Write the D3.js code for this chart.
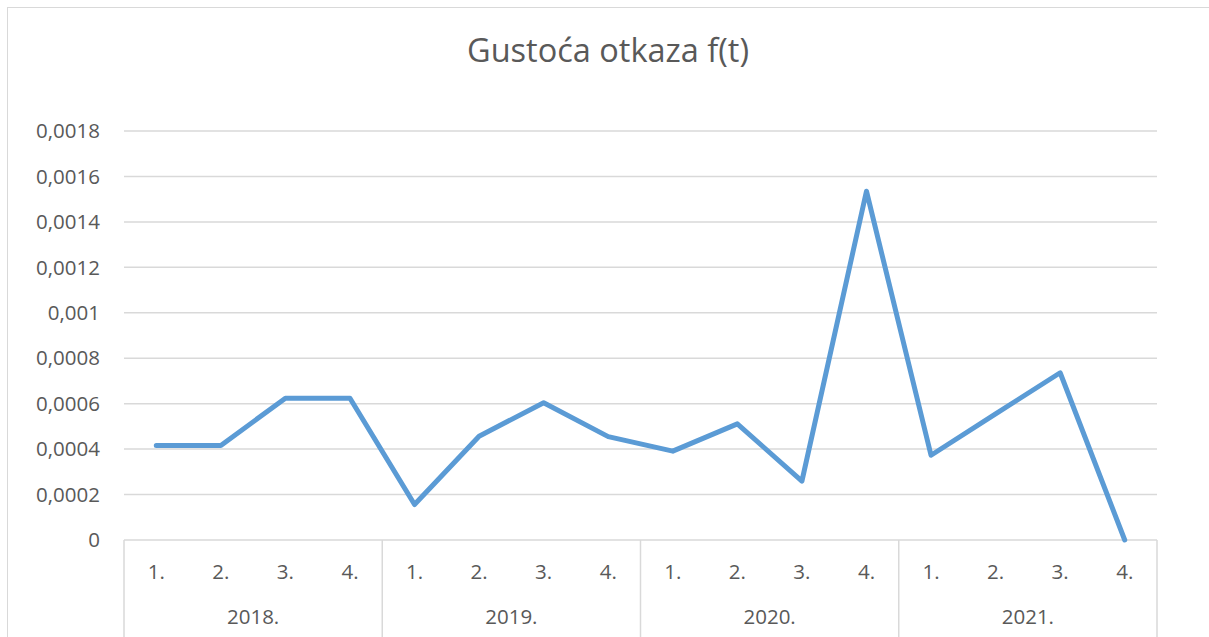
<!DOCTYPE html>
<html>
<head>
<meta charset="utf-8">
<script src="https://cdn.jsdelivr.net/npm/d3@7"></script>
<style>
  body { margin: 0; background: #fff; }
  text { font-family: "Open Sans", "Liberation Sans", sans-serif; fill: #595959; }
</style>
</head>
<body>
<div id="chart"></div>
<script>
const title = "Gustoća otkaza f(t)";
const years = ["2018.", "2019.", "2020.", "2021."];
const quarters = ["1.", "2.", "3.", "4."];
const values = [
  0.000416, 0.000416, 0.000624, 0.000624,
  0.000156, 0.000457, 0.000604, 0.000455,
  0.000391, 0.000511, 0.000259, 0.001535,
  0.000373, 0.000555, 0.000736, 0
];
const yTicks = [0, 0.0002, 0.0004, 0.0006, 0.0008, 0.001, 0.0012, 0.0014, 0.0016, 0.0018];

const width = 1209, height = 637;
const margin = {top: 131, right: 52, bottom: 97, left: 124};
const innerW = width - margin.left - margin.right;
const innerH = height - margin.top - margin.bottom;

const points = values.map((v, i) => ({
  key: years[Math.floor(i / 4)] + quarters[i % 4],
  value: v
}));

const x = d3.scaleBand()
    .domain(points.map(d => d.key))
    .range([0, innerW]);
const xYear = d3.scaleBand()
    .domain(years)
    .range([0, innerW]);
const y = d3.scaleLinear()
    .domain([0, 0.0018])
    .range([innerH, 0]);

const svg = d3.select("#chart").append("svg")
    .attr("width", width)
    .attr("height", height);

// outer chart frame
svg.append("rect")
    .attr("x", 7.5).attr("y", 7.5)
    .attr("width", width + 10).attr("height", height + 10)
    .attr("fill", "none")
    .attr("stroke", "#d9d9d9");

svg.append("text")
    .attr("x", 608)
    .attr("y", 53)
    .attr("text-anchor", "middle")
    .attr("dominant-baseline", "middle")
    .style("font-size", "32.5px")
    .text(title);

const g = svg.append("g")
    .attr("transform", "translate(" + margin.left + "," + margin.top + ")");

// gridlines
g.append("g")
    .attr("stroke", "#d9d9d9")
    .attr("stroke-width", 1.5)
  .selectAll("line")
  .data(yTicks.filter(t => t > 0))
  .enter().append("line")
    .attr("x1", 0).attr("x2", innerW)
    .attr("y1", d => y(d)).attr("y2", d => y(d));

// y labels
const fmt = d => String(+d.toFixed(6)).replace(".", ",");
g.append("g").selectAll("text")
  .data(yTicks)
  .enter().append("text")
    .attr("x", -24)
    .attr("y", d => y(d))
    .attr("dy", "0.35em")
    .attr("text-anchor", "end")
    .style("font-size", "20.5px")
    .text(fmt);

// category axis
const axis = g.append("g").attr("transform", "translate(0," + innerH + ")");
axis.append("line")
    .attr("x1", 0).attr("x2", innerW)
    .attr("stroke", "#d9d9d9").attr("stroke-width", 1.5);
axis.selectAll(".sep")
  .data(years.concat(["end"]))
  .enter().append("line")
    .attr("class", "sep")
    .attr("x1", (d, i) => i < years.length ? xYear(d) : innerW)
    .attr("x2", (d, i) => i < years.length ? xYear(d) : innerW)
    .attr("y1", 0).attr("y2", margin.bottom + 5)
    .attr("stroke", "#d9d9d9").attr("stroke-width", 1.5);
axis.selectAll(".q")
  .data(points)
  .enter().append("text")
    .attr("class", "q")
    .attr("x", d => x(d.key) + x.bandwidth() / 2)
    .attr("y", 32)
    .attr("dy", "0.35em")
    .attr("text-anchor", "middle")
    .style("font-size", "20.5px")
    .text((d, i) => quarters[i % 4]);
axis.selectAll(".yr")
  .data(years)
  .enter().append("text")
    .attr("class", "yr")
    .attr("x", d => xYear(d) + xYear.bandwidth() / 2)
    .attr("y", 77)
    .attr("dy", "0.35em")
    .attr("text-anchor", "middle")
    .style("font-size", "20.5px")
    .text(d => d);

// series line
const line = d3.line()
    .x(d => x(d.key) + x.bandwidth() / 2)
    .y(d => y(d.value));
g.append("path")
    .datum(points)
    .attr("fill", "none")
    .attr("stroke", "#5b9bd5")
    .attr("stroke-width", 5)
    .attr("stroke-linejoin", "round")
    .attr("stroke-linecap", "round")
    .attr("d", line);
</script>
</body>
</html>
